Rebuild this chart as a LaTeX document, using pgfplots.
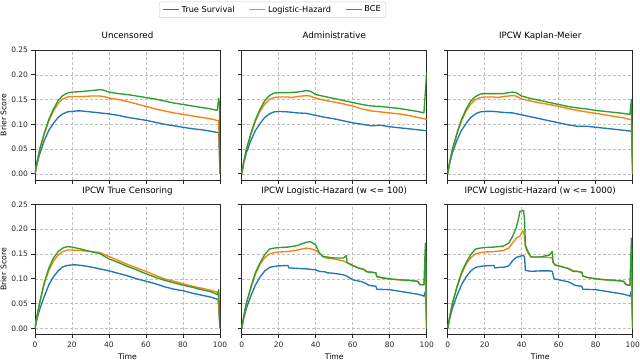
\documentclass[border=0pt]{standalone}
\usepackage{fontspec}
\setmainfont{DejaVu Sans}
\usepackage{pgfplots}
\pgfplotsset{compat=1.18}
\definecolor{tabblue}{HTML}{1F77B4}
\definecolor{taborange}{HTML}{FF7F0E}
\definecolor{tabgreen}{HTML}{2CA02C}
\pgfplotsset{panel/.style={scale only axis, width=185pt, height=130pt,
  xmin=0, xmax=100, ymin=-0.0125, ymax=0.25,
  xtick={0,20,40,60,80,100}, ytick={0,0.05,0.1,0.15,0.2,0.25},
  xticklabels={}, yticklabels={},
  grid=major, grid style={densely dashed, black!25, line width=0.5pt},
  axis line style={black!85, line width=0.7pt}, tick style={black!85, line width=0.7pt},
  major tick length=3.5pt, tick align=outside, tick pos=left,
  ticklabel style={font=\fontsize{7.5}{9}\selectfont, text=black!85},
  title style={font=\fontsize{8.7}{10}\selectfont, at={(0.5,1)}, anchor=base, yshift=5.5pt, inner sep=0pt},
  label style={font=\fontsize{7.7}{9}\selectfont},
  every axis plot/.append style={line width=1.35pt, line join=round}},
  xlab/.style={xticklabels={0,20,40,60,80,100}, xlabel={Time},
  xlabel style={at={(axis description cs:0.5,-0.17)}, anchor=center}},
  ylab/.style={yticklabels={0.00,0.05,0.10,0.15,0.20,0.25}, ylabel={Brier Score},
  ylabel style={at={(axis description cs:-0.17,0.5)}, anchor=center}}}

\begin{document}
\begin{tikzpicture}
\useasboundingbox (0,0) rectangle (640pt,-361pt);

% Uncensored
\begin{axis}[panel, ylab, at={(35pt,-50pt)}, anchor=north west, title={Uncensored},
  legend style={at={(1.284,1.31)}, anchor=center, legend columns=3, draw=black!20,
  rounded corners=2pt, font=\fontsize{8.2}{9.5}\selectfont,
  /tikz/every even column/.append style={column sep=12pt}}, legend cell align=left,
  legend image code/.code={\draw[line width=1.35pt] (0pt,0pt) -- (16pt,0pt);}]
\addplot[tabblue] coordinates {(0,0)(1,0.018)(2.5,0.04)(5,0.067)(7.5,0.088)(10,0.102)(12.5,0.114)(15,0.121)(17.5,0.125)(20,0.126)(22.5,0.127)(25,0.127)(27.5,0.126)(30,0.125)(35,0.123)(40,0.121)(45,0.118)(50,0.114)(55,0.111)(60,0.108)(65,0.104)(70,0.1)(75,0.097)(80,0.094)(85,0.091)(90,0.089)(95,0.086)(99.3,0.083)(100,0)};
\addplot[taborange] coordinates {(0,0)(1,0.022)(2.5,0.048)(5,0.08)(7.5,0.107)(10,0.127)(12.5,0.142)(15,0.151)(17.5,0.155)(20,0.156)(25,0.156)(30,0.157)(35,0.157)(37.5,0.156)(40,0.153)(45,0.15)(50,0.146)(55,0.141)(60,0.136)(65,0.131)(70,0.127)(75,0.123)(80,0.12)(85,0.117)(90,0.114)(95,0.111)(99.3,0.107)(100,0)};
\addplot[tabgreen] coordinates {(0,0)(1,0.022)(2.5,0.049)(5,0.082)(7.5,0.11)(10,0.131)(12.5,0.148)(15,0.158)(17.5,0.163)(20,0.165)(25,0.166)(30,0.168)(33,0.169)(35,0.17)(37,0.169)(40,0.165)(45,0.162)(50,0.16)(55,0.157)(60,0.154)(65,0.151)(70,0.147)(75,0.143)(80,0.14)(85,0.137)(90,0.134)(95,0.131)(98.5,0.128)(99.3,0.153)(99.7,0.14)(100,0)};
\legend{True Survival, Logistic-Hazard, BCE}
\end{axis}

% Administrative
\begin{axis}[panel, at={(241.7pt,-50pt)}, anchor=north west, title={Administrative}]
\addplot[tabblue] coordinates {(0,0)(1,0.02)(2.5,0.042)(5,0.068)(7.5,0.088)(10,0.102)(12.5,0.114)(15,0.121)(17.5,0.125)(20,0.126)(25,0.125)(30,0.123)(35,0.122)(40,0.118)(45,0.114)(50,0.111)(55,0.107)(60,0.103)(65,0.1)(70,0.097)(75,0.098)(80,0.095)(85,0.093)(90,0.091)(95,0.089)(100,0.087)};
\addplot[taborange] coordinates {(0,0)(1,0.022)(2.5,0.048)(5,0.08)(7.5,0.107)(10,0.127)(12.5,0.141)(15,0.15)(17.5,0.154)(20,0.155)(25,0.155)(27,0.154)(30,0.156)(35,0.158)(37,0.157)(40,0.153)(45,0.148)(50,0.145)(55,0.141)(60,0.137)(65,0.131)(70,0.127)(75,0.125)(80,0.123)(85,0.121)(90,0.118)(95,0.114)(100,0.11)};
\addplot[tabgreen] coordinates {(0,0)(1,0.022)(2.5,0.049)(5,0.082)(7.5,0.11)(10,0.131)(12.5,0.148)(15,0.158)(17.5,0.163)(20,0.164)(25,0.164)(30,0.165)(35,0.168)(37,0.167)(40,0.16)(45,0.156)(50,0.152)(55,0.148)(60,0.144)(65,0.14)(70,0.137)(75,0.136)(80,0.134)(85,0.132)(90,0.129)(95,0.126)(98.5,0.123)(100,0.206)};
\end{axis}

% IPCW Kaplan-Meier
\begin{axis}[panel, at={(447.7pt,-50pt)}, anchor=north west, title={IPCW Kaplan-Meier}]
\addplot[tabblue] coordinates {(0,0)(1,0.02)(2.5,0.042)(5,0.068)(7.5,0.088)(10,0.102)(12.5,0.114)(15,0.121)(17.5,0.125)(20,0.126)(25,0.126)(30,0.124)(35,0.123)(40,0.119)(45,0.115)(50,0.111)(55,0.107)(60,0.103)(65,0.099)(70,0.096)(75,0.096)(80,0.094)(85,0.092)(90,0.09)(95,0.088)(99.3,0.086)(100,0)};
\addplot[taborange] coordinates {(0,0)(1,0.022)(2.5,0.048)(5,0.08)(7.5,0.107)(10,0.127)(12.5,0.141)(15,0.15)(17.5,0.154)(20,0.155)(25,0.155)(27,0.154)(30,0.156)(35,0.158)(37,0.157)(40,0.151)(45,0.147)(50,0.143)(55,0.14)(60,0.136)(65,0.132)(70,0.128)(75,0.125)(80,0.122)(85,0.119)(90,0.116)(95,0.113)(99.3,0.109)(100,0)};
\addplot[tabgreen] coordinates {(0,0)(1,0.022)(2.5,0.049)(5,0.082)(7.5,0.11)(10,0.131)(12.5,0.147)(15,0.156)(17.5,0.161)(20,0.162)(25,0.162)(30,0.162)(35,0.165)(37,0.164)(40,0.157)(45,0.152)(50,0.148)(55,0.144)(60,0.14)(65,0.136)(70,0.133)(75,0.131)(80,0.128)(85,0.126)(90,0.124)(95,0.122)(98.5,0.12)(99.3,0.15)(100,0)};
\end{axis}

% IPCW True Censoring
\begin{axis}[panel, xlab, ylab, at={(35pt,-204.5pt)}, anchor=north west, title={IPCW True Censoring}]
\addplot[tabblue] coordinates {(0,0)(1,0.018)(2.5,0.038)(5,0.064)(7.5,0.088)(10,0.104)(12.5,0.116)(15,0.124)(17.5,0.127)(20,0.128)(22.5,0.128)(25,0.127)(30,0.124)(35,0.12)(40,0.116)(45,0.111)(50,0.106)(55,0.1)(60,0.095)(65,0.09)(70,0.084)(75,0.079)(80,0.076)(85,0.071)(90,0.067)(95,0.063)(99,0.058)(100,0)};
\addplot[taborange] coordinates {(0,0)(1,0.022)(2.5,0.05)(5,0.09)(7.5,0.117)(10,0.136)(12.5,0.148)(15,0.155)(17.5,0.158)(20,0.158)(25,0.157)(30,0.155)(35,0.153)(40,0.145)(45,0.137)(50,0.129)(55,0.122)(60,0.115)(65,0.107)(70,0.1)(75,0.095)(80,0.09)(85,0.085)(90,0.081)(95,0.077)(99,0.072)(100,0)};
\addplot[tabgreen] coordinates {(0,0)(1,0.023)(2.5,0.052)(5,0.092)(7.5,0.122)(10,0.142)(12.5,0.155)(15,0.162)(17.5,0.165)(20,0.164)(25,0.16)(30,0.155)(35,0.151)(40,0.14)(45,0.133)(50,0.125)(55,0.118)(60,0.11)(65,0.103)(70,0.097)(75,0.092)(80,0.087)(85,0.083)(90,0.078)(95,0.074)(98.7,0.068)(99.3,0.078)(100,0)};
\end{axis}

% IPCW Logistic-Hazard (w <= 100)
\begin{axis}[panel, xlab, at={(241.7pt,-204.5pt)}, anchor=north west, title={IPCW Logistic-Hazard (w <= 100)}]
\addplot[tabblue] coordinates {(0,0)(1,0.018)(2.5,0.04)(5,0.066)(7.5,0.088)(10,0.104)(12.5,0.116)(15,0.123)(17.5,0.125)(20,0.126)(25,0.127)(25.5,0.122)(30,0.121)(35,0.12)(40,0.118)(42,0.115)(45,0.114)(46.5,0.112)(50,0.111)(55,0.108)(57,0.105)(60,0.098)(65,0.094)(67.5,0.09)(68,0.088)(70,0.086)(72.5,0.085)(73,0.079)(80,0.078)(85,0.075)(90,0.072)(95,0.069)(97,0.067)(98.5,0.065)(99.3,0.075)(100,0)};
\addplot[taborange] coordinates {(0,0)(1,0.022)(2.5,0.05)(5,0.082)(7.5,0.11)(10,0.13)(12.5,0.143)(15,0.15)(17.5,0.153)(20,0.154)(25,0.155)(30,0.158)(35,0.162)(38,0.16)(40,0.157)(42,0.152)(44,0.144)(46,0.142)(50,0.14)(55,0.136)(57,0.132)(60,0.126)(63,0.122)(66,0.119)(67.5,0.115)(70,0.114)(72.5,0.112)(73,0.104)(75,0.102)(80,0.099)(85,0.098)(90,0.097)(95,0.095)(96.5,0.088)(98.5,0.088)(99.3,0.11)(100,0)};
\addplot[tabgreen] coordinates {(0,0)(1,0.022)(2.5,0.05)(5,0.084)(7.5,0.113)(10,0.133)(12.5,0.149)(15,0.16)(17.5,0.162)(20,0.163)(25,0.164)(30,0.167)(35,0.174)(37,0.175)(39,0.171)(40,0.168)(42,0.152)(44,0.145)(50,0.142)(55,0.142)(56.5,0.147)(57,0.133)(60,0.127)(63,0.122)(66,0.119)(67.5,0.114)(70,0.113)(72.5,0.112)(73,0.105)(75,0.103)(80,0.1)(85,0.098)(90,0.097)(95,0.095)(96.5,0.088)(98.5,0.088)(99.3,0.172)(99.7,0.1)(100,0)};
\end{axis}

% IPCW Logistic-Hazard (w <= 1000)
\begin{axis}[panel, xlab, at={(447.7pt,-204.5pt)}, anchor=north west, title={IPCW Logistic-Hazard (w <= 1000)}]
\addplot[tabblue] coordinates {(0,0)(1,0.018)(2.5,0.04)(5,0.066)(7.5,0.088)(10,0.104)(12.5,0.116)(15,0.123)(17.5,0.125)(20,0.126)(25,0.127)(25.5,0.122)(28,0.123)(30,0.123)(33,0.126)(35,0.136)(37,0.143)(40.5,0.147)(41.5,0.145)(42,0.117)(45,0.115)(50,0.116)(55,0.116)(56.5,0.115)(57.5,0.1)(60,0.098)(65,0.094)(67.5,0.09)(68,0.088)(70,0.086)(72.5,0.085)(73,0.079)(80,0.078)(85,0.075)(90,0.072)(95,0.069)(97,0.067)(98.5,0.065)(99.3,0.075)(100,0)};
\addplot[taborange] coordinates {(0,0)(1,0.022)(2.5,0.05)(5,0.082)(7.5,0.11)(10,0.13)(12.5,0.143)(15,0.15)(17.5,0.153)(20,0.154)(25,0.155)(30,0.157)(33,0.162)(35,0.172)(37,0.182)(39,0.186)(40.5,0.197)(41.3,0.19)(42,0.165)(43,0.155)(45,0.144)(50,0.144)(55,0.143)(56.5,0.142)(57,0.133)(58,0.128)(60,0.126)(65,0.121)(67,0.118)(67.5,0.116)(70,0.115)(72.5,0.113)(73,0.106)(75,0.103)(80,0.1)(85,0.098)(90,0.097)(95,0.095)(96.5,0.088)(98.5,0.087)(99.3,0.11)(100,0)};
\addplot[tabgreen] coordinates {(0,0)(1,0.022)(2.5,0.05)(5,0.084)(7.5,0.113)(10,0.133)(12.5,0.149)(15,0.16)(17.5,0.162)(20,0.163)(25,0.164)(30,0.166)(33,0.172)(35,0.185)(37,0.203)(38.5,0.225)(39,0.236)(41,0.238)(41.5,0.22)(42,0.168)(43,0.158)(45,0.144)(50,0.144)(55,0.148)(56.5,0.155)(57,0.133)(58,0.128)(60,0.126)(65,0.121)(67,0.117)(67.5,0.115)(70,0.115)(72.5,0.113)(73,0.106)(75,0.103)(80,0.1)(85,0.098)(90,0.097)(95,0.095)(96.5,0.088)(98.5,0.087)(99.3,0.182)(99.7,0.1)(100,0)};
\end{axis}
\end{tikzpicture}
\end{document}
